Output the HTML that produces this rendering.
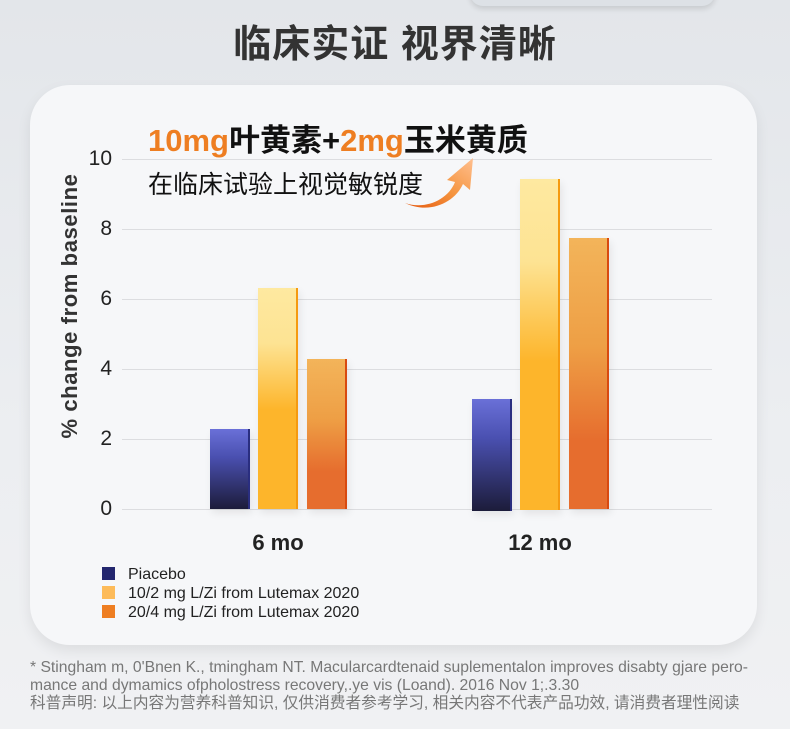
<!DOCTYPE html>
<html><head><meta charset="utf-8"><style>
body{margin:0;width:790px;height:729px;overflow:hidden;background:linear-gradient(180deg,#e3e6ea 0%,#eceef1 60%,#f0f1f3 100%);font-family:"Liberation Sans","Noto Sans CJK SC",sans-serif;position:relative}
.t{position:absolute;left:0;width:790px;top:13px;text-align:center;font-size:38px;font-weight:bold;color:#333;letter-spacing:1px}
.topbar{position:absolute;left:470px;top:-20px;width:245px;height:26px;border-radius:14px;background:#dde1e6;box-shadow:0 3px 6px rgba(0,0,0,.12)}
.card{position:absolute;left:30px;top:85px;width:727px;height:560px;border-radius:40px;background:#f6f7f9;box-shadow:0 6px 14px rgba(0,0,0,.08)}
.a{position:absolute}
.grid{position:absolute;left:122px;width:590px;height:1px;background:#dcdde0}
.tick{position:absolute;width:40px;left:72px;text-align:right;font-size:21px;color:#222;line-height:22px}
.bar{position:absolute;width:38px;box-shadow:2px 4px 8px rgba(0,0,0,.08)}
.p{background:linear-gradient(180deg,#6a70d8 0%,#4a50b0 35%,#1c1c3a 100%);border-right:2px solid #2a2e80}
.y{background:linear-gradient(180deg,#fee9a0 0%,#fde393 25%,#fdb52b 55%,#fdb52b 100%);border-right:2px solid #f59a10}
.o{background:linear-gradient(180deg,#f3b45a 0%,#ee9f45 40%,#e66d2e 75%,#e66d2e 100%);border-right:2px solid #d84a10}
.leg{position:absolute;left:102px;font-size:16px;color:#222;white-space:nowrap}
.leg i{display:inline-block;width:13px;height:13px;vertical-align:-1px;margin-right:13px}
.fn{position:absolute;left:30px;font-size:15.7px;color:#777;line-height:18px}
</style></head><body>
<div class="topbar"></div>
<div class="t">临床实证 视界清晰</div>
<div class="card"></div>
<div class="grid" style="top:159px"></div>
<div class="grid" style="top:229px"></div>
<div class="grid" style="top:299px"></div>
<div class="grid" style="top:369px"></div>
<div class="grid" style="top:439px"></div>
<div class="grid" style="top:509px"></div>
<div class="tick" style="top:148px">10</div>
<div class="tick" style="top:218px">8</div>
<div class="tick" style="top:288px">6</div>
<div class="tick" style="top:358px">4</div>
<div class="tick" style="top:428px">2</div>
<div class="tick" style="top:498px">0</div>
<div class="a" style="left:70px;top:306px;transform:translate(-50%,-50%) rotate(-90deg);white-space:nowrap;font-size:22px;font-weight:bold;color:#333;letter-spacing:.6px">% change from baseline</div>
<div class="a" style="left:148px;top:115px;font-size:31px;font-weight:bold;color:#111;white-space:nowrap"><span style="color:#ee7e22">10mg</span>叶黄素+<span style="color:#ee7e22">2mg</span>玉米黄质</div>
<div class="a" style="left:148px;top:165px;font-size:25px;color:#111;white-space:nowrap">在临床试验上视觉敏锐度</div>
<svg class="a" style="left:400px;top:150px" width="80" height="65" viewBox="0 0 80 65">
<defs><linearGradient id="g" x1="0" y1="1" x2="1" y2="0"><stop offset="0" stop-color="#e55a10"/><stop offset=".5" stop-color="#f59540"/><stop offset="1" stop-color="#ffc090"/></linearGradient></defs>
<path d="M5 53 C25 60 48 50 55 32 L47 30 L73 8 L70 40 L63 34 C55 52 30 65 5 53Z" fill="url(#g)"/>
</svg>
<div class="bar p" style="left:210px;top:429px;height:80px"></div>
<div class="bar y" style="left:258px;top:288px;height:221px"></div>
<div class="bar o" style="left:307px;top:359px;height:150px"></div>
<div class="bar p" style="left:472px;top:399px;height:112px"></div>
<div class="bar y" style="left:520px;top:179px;height:331px"></div>
<div class="bar o" style="left:569px;top:238px;height:271px"></div>
<div class="a" style="left:228px;width:100px;text-align:center;top:530px;font-size:22px;font-weight:bold;color:#222">6 mo</div>
<div class="a" style="left:490px;width:100px;text-align:center;top:530px;font-size:22px;font-weight:bold;color:#222">12 mo</div>
<div class="leg" style="top:566px"><i style="background:#23266e"></i>Piacebo</div>
<div class="leg" style="top:585px"><i style="background:#fdbb5a"></i>10/2 mg L/Zi from Lutemax 2020</div>
<div class="leg" style="top:604px"><i style="background:#ee7e22"></i>20/4 mg L/Zi from Lutemax 2020</div>
<div class="fn" style="top:659px;white-space:nowrap">* Stingham m, 0'Bnen K., tmingham NT. Macularcardtenaid suplementalon improves disabty gjare pero-</div>
<div class="fn" style="top:677px;white-space:nowrap">mance and dymamics ofpholostress recovery,.ye vis (Loand). 2016 Nov 1;.3.30</div>
<div class="fn" style="top:695px;white-space:nowrap">科普声明: 以上内容为营养科普知识, 仅供消费者参考学习, 相关内容不代表产品功效, 请消费者理性阅读</div>
</body></html>
